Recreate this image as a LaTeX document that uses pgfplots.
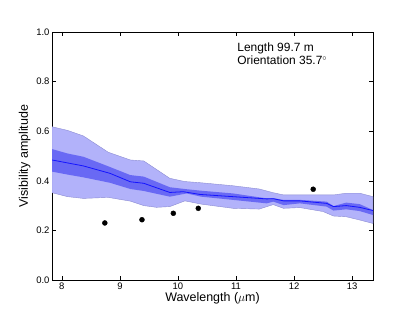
\documentclass[border=0pt]{standalone}
\usepackage{fontspec}
\setmainfont{Liberation Sans}
\usepackage{pgfplots}
\pgfplotsset{compat=1.18}
\definecolor{outerband}{RGB}{178,178,250}
\definecolor{innerband}{RGB}{105,105,244}
\definecolor{outeredge}{RGB}{140,140,210}
\definecolor{midline}{RGB}{20,20,255}
\begin{document}
\begin{tikzpicture}
\path[use as bounding box] (-52bp,-32bp) rectangle (363bp,280bp);
\begin{axis}[
  scale only axis, width=321bp, height=248bp,
  xmin=7.83, xmax=13.36, ymin=0, ymax=1,
  xtick={8,9,10,11,12,13},
  ytick={0,0.2,0.4,0.6,0.8,1.0},
  yticklabel style={xshift=1bp, /pgf/number format/.cd, fixed, fixed zerofill, precision=1},
  /pgf/number format/assume math mode=true,
  tick align=inside, tick pos=both,
  major tick length=4bp,
  tick style={black, line width=0.5pt},
  ticklabel style={font=\fontsize{9.5}{11}\selectfont},
  xticklabel style={yshift=1bp},
  xlabel={Wavelength ($\mu\mathrm{m}$)},
  ylabel={Visibility amplitude},
  label style={font=\fontsize{12.5}{14}\selectfont},
  xlabel style={yshift=4bp},
  ylabel style={yshift=-1bp},
  axis line style={black, line width=0.6pt},
]
% outer band
\addplot[fill=outerband, draw=outeredge, line width=0.4pt] coordinates {
(7.83,0.618) (8.10,0.603) (8.37,0.581) (8.80,0.515) (9.18,0.484) (9.41,0.480) (9.86,0.410) (10.12,0.397) (10.40,0.392) (10.95,0.380) (11.40,0.367) (11.64,0.352) (11.82,0.343) (12.10,0.343) (12.50,0.343) (12.68,0.343) (12.90,0.350) (13.13,0.350) (13.36,0.336)
(13.36,0.228) (13.13,0.242) (12.90,0.255) (12.68,0.258) (12.50,0.276) (12.10,0.292) (11.82,0.289) (11.64,0.304) (11.40,0.286) (10.95,0.289) (10.40,0.306) (10.12,0.319) (9.86,0.296) (9.63,0.293) (9.41,0.300) (9.18,0.318) (8.80,0.333) (8.37,0.329) (8.10,0.336) (7.83,0.352)
} -- cycle;
% inner band
\addplot[fill=innerband, draw=none] coordinates {
(7.83,0.528) (8.10,0.510) (8.37,0.497) (8.77,0.461) (9.18,0.423) (9.41,0.417) (9.86,0.374) (10.15,0.366) (10.40,0.360) (10.95,0.349) (11.53,0.329) (11.64,0.330) (11.82,0.323) (12.10,0.323) (12.56,0.316) (12.68,0.298) (12.90,0.312) (13.13,0.306) (13.36,0.282)
(13.36,0.262) (13.13,0.278) (12.90,0.285) (12.68,0.280) (12.56,0.296) (12.10,0.309) (11.82,0.302) (11.64,0.316) (11.53,0.309) (10.95,0.323) (10.40,0.336) (10.15,0.349) (9.86,0.336) (9.41,0.359) (9.18,0.367) (8.83,0.392) (8.37,0.414) (8.10,0.425) (7.83,0.437)
} -- cycle;
% middle line
\addplot[midline, line width=0.8pt] coordinates {
(7.83,0.484) (8.10,0.472) (8.37,0.460) (8.83,0.430) (9.18,0.396) (9.41,0.390) (9.86,0.353) (10.09,0.356) (10.38,0.345) (10.95,0.336) (11.53,0.327) (11.64,0.328) (11.82,0.319) (12.10,0.319) (12.56,0.309) (12.68,0.296) (12.90,0.300) (13.13,0.293) (13.36,0.280)
};
% data points
\addplot[only marks, mark=*, mark size=2.5pt, black] coordinates {
(8.74,0.230) (9.38,0.243) (9.92,0.269) (10.35,0.289) (12.33,0.366)
};
\node[anchor=north west, align=left, font=\fontsize{12}{13.5}\selectfont, inner sep=0pt] at (axis cs:11.02,0.958) {Length 99.7 m\\Orientation 35.7$^\circ$};
\end{axis}
\end{tikzpicture}
\end{document}
